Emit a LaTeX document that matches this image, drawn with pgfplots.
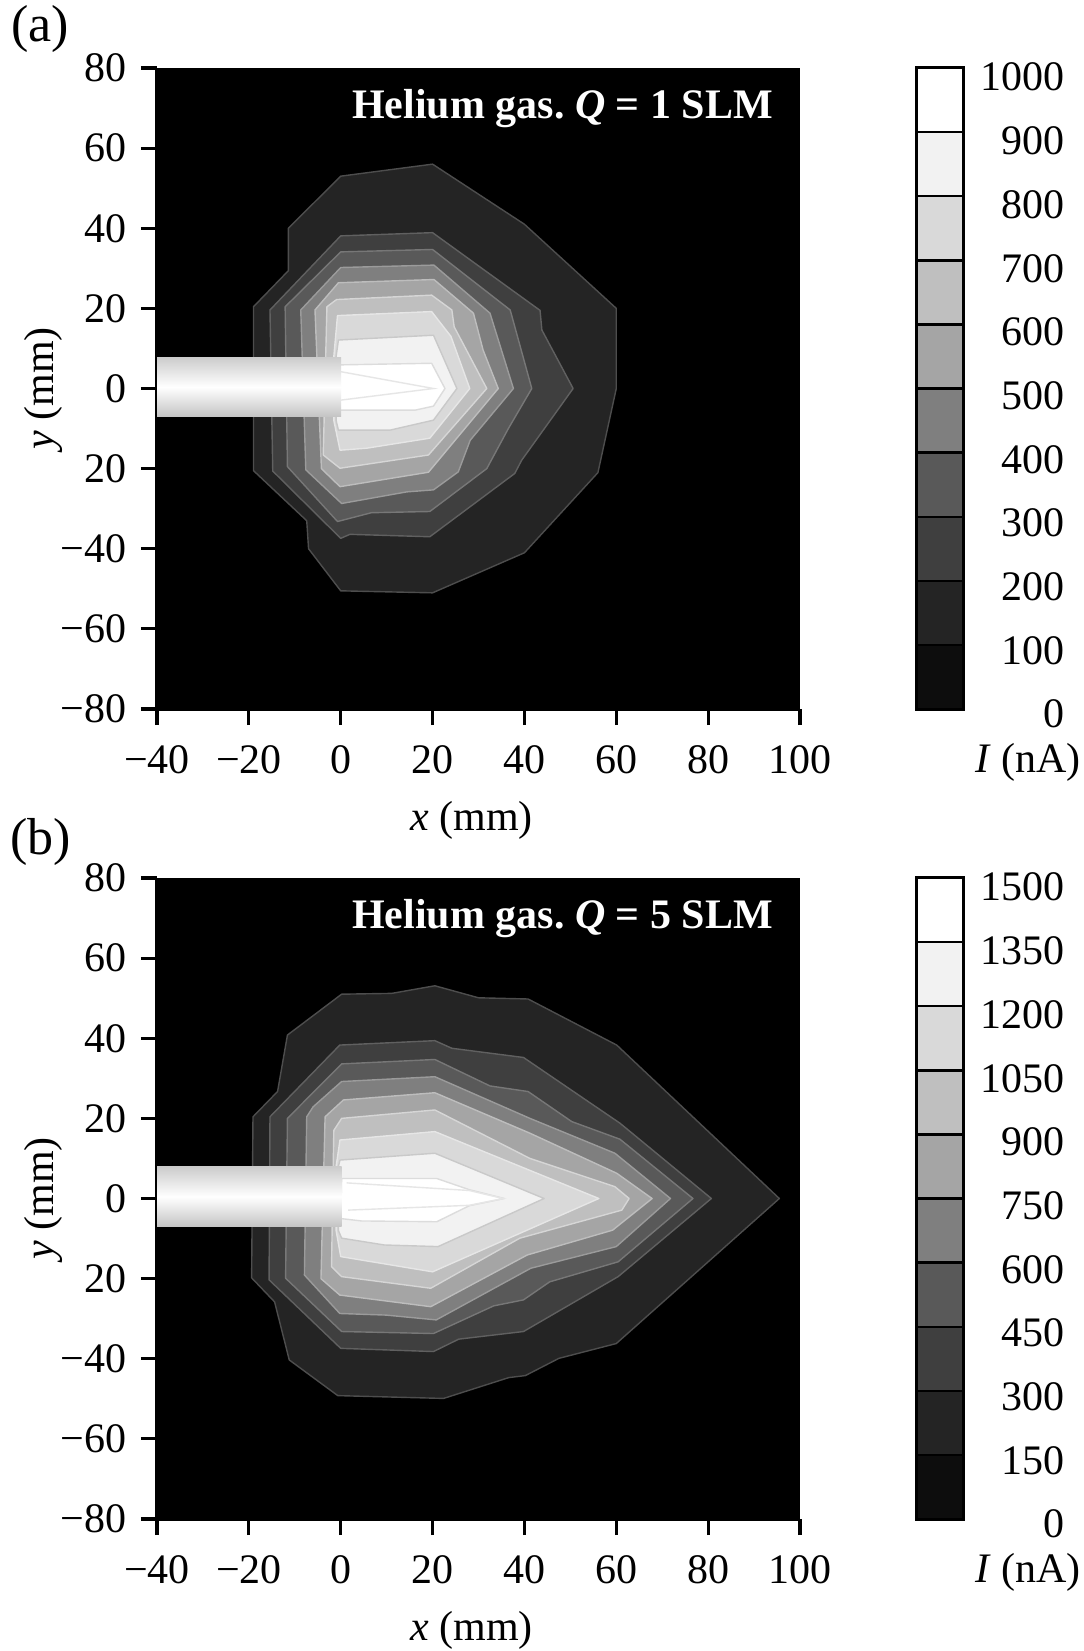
\documentclass[border=0pt]{standalone}
\usepackage{fontspec}
\setmainfont{Liberation Serif}
\usepackage{pgfplots}
\pgfplotsset{compat=1.18}

% grey levels of the contour fills (lowest to highest)
\definecolor{lv0}{HTML}{0D0D0D}
\definecolor{lv1}{HTML}{242424}
\definecolor{lv2}{HTML}{3F3F3F}
\definecolor{lv3}{HTML}{595959}
\definecolor{lv4}{HTML}{7F7F7F}
\definecolor{lv5}{HTML}{A5A5A5}
\definecolor{lv6}{HTML}{BFBFBF}
\definecolor{lv7}{HTML}{D9D9D9}
\definecolor{lv8}{HTML}{F2F2F2}
\definecolor{lv9}{HTML}{FFFFFF}
% contour line colours
\definecolor{ed1}{HTML}{4D4D4D}
\definecolor{ed2}{HTML}{606060}
\definecolor{ed3}{HTML}{777777}
\definecolor{ed4}{HTML}{9B9B9B}
\definecolor{ed5}{HTML}{BDBDBD}
\definecolor{ed6}{HTML}{D6D6D6}
\definecolor{ed7}{HTML}{E6E6E6}
\definecolor{ed8}{HTML}{C9C9C9}
\definecolor{ed9}{HTML}{DCDCDC}
\definecolor{pipeT}{HTML}{CCCCCC}
\definecolor{pipeB}{HTML}{C4C4C4}

\newcommand{\lvl}[3]{\addplot[fill=#1, draw=#2, line width=0.35pt, line join=round] coordinates {#3} -- cycle;}
\newcommand{\seg}[3]{\addplot[fill=#1, draw=black, line width=0.6pt] coordinates {(0,#2) (1,#2) (1,#3) (0,#3)} -- cycle;}

\pgfplotsset{
  map/.style={
    scale only axis, width=160.75pt, height=160.25pt,
    xmin=-40, xmax=100, ymin=-80, ymax=80,
    axis background/.style={fill=black},
    axis lines*=left, tick align=outside,
    major tick length=4pt,
    every tick/.style={black, line width=0.8pt},
    axis line style={line width=0.8pt},
    xtick={-40,-20,...,100},
    xticklabels={−40,−20,0,20,40,60,80,100},
    xticklabel style={yshift=-1.5pt},
    ytick={-80,-60,...,80},
    yticklabels={−80,−60,−40,20,0,20,40,60,80},
    xlabel={\textit{x} (mm)},
    ylabel={\textit{y} (mm)},
    xlabel style={at={(axis description cs:0.489,-0.173)}, anchor=center},
    ylabel style={at={(axis description cs:-0.176,0.5)}, anchor=center},
  },
  cbar/.style={
    scale only axis, width=11.5pt, height=160.25pt,
    xmin=0, xmax=1, xtick=\empty,
    yticklabel pos=right, major tick length=0pt,
    axis line style={line width=0.8pt},
    yticklabel style={anchor=east, xshift=29pt, yshift=-1.25pt-0.105pt*\ticknum},
  },
}

\begin{document}
\frenchspacing
\fontsize{10.5}{12.6}\selectfont
\begin{tikzpicture}[font=\fontsize{10.5}{12.6}\selectfont]
\useasboundingbox (0,0) rectangle (270.75pt,-412.75pt);

% ---------------- (a) Q = 1 SLM ----------------
\begin{axis}[map, at={(39.25pt,-177.25pt)}, anchor=south west]
\lvl{lv1}{ed1}{(0,53) (20,56) (40,41) (60,20) (60,0) (56,-21) (40,-41) (20,-51) (0,-50.5) (-7,-40) (-7.4,-33) (-19,-20.5) (-19,20.4) (-11.4,29.4) (-11.4,40)}
\lvl{lv2}{ed2}{(0,38.1) (20,38.9) (43.4,19.5) (43.8,14.6) (50.6,0) (39.4,-17.9) (37.9,-21.2) (19.4,-37) (2,-36.4) (0,-37.4) (-14.8,-20.6) (-15.4,19.6)}
\lvl{lv3}{ed3}{(0,34.1) (20,34.7) (36.9,19.6) (41.6,0) (36.5,-10) (31.8,-20) (19.4,-30.7) (6.7,-31) (-0.7,-33.2) (-11.6,-19.5) (-12.1,20.4)}
\lvl{lv4}{ed4}{(0,30.2) (20.3,30.8) (32.5,18.8) (37.6,0) (28.2,-12.9) (25.6,-20.8) (20.2,-25.3) (14.4,-25.8) (0.2,-28.7) (-7.6,-20.3) (-8.7,19.6)}
\lvl{lv5}{ed5}{(-0.5,26.4) (20.3,27.2) (28.9,18.8) (31,9.6) (34.3,0) (19.1,-20.9) (-0.15,-24.5) (-4.2,-20) (-5.6,19.6)}
\lvl{lv6}{ed6}{(-3,20.4) (-0.9,22.2) (19.8,23.3) (24.2,19.6) (24.7,15.4) (31.8,0) (19.1,-16.6) (-0.15,-19.9) (-3.8,-16.6)}
\lvl{lv7}{ed7}{(-0.7,18.2) (19.8,19.2) (24,13) (28.1,0) (19.4,-12.4) (5.65,-14.9) (-0.15,-15.4) (-1.5,-8) (-1.5,8)}
\lvl{lv8}{ed8}{(-0.5,12.1) (20.2,13.3) (25.3,0) (20.2,-7.9) (10.7,-10.4) (-0.5,-10.4) (-1,-8) (-1,8)}
\lvl{lv9}{ed9}{(-0.2,5.9) (19.8,6.3) (22.7,0) (20.2,-4.4) (16.2,-5.4) (-0.2,-5.4)}
\addplot[draw=ed7, line width=0.35pt] coordinates {(0,4.2) (20.2,0) (0,-2.9)};
% nozzle
\addplot[draw=none, top color=pipeT, bottom color=pipeB, middle color=white] coordinates {(-40,7.8) (0.1,7.8) (0.1,-7) (-40,-7)} -- cycle;
\node[anchor=east, text=white, inner sep=0pt] at (rel axis cs:0.959,0.937) {\textbf{Helium gas. \textit{Q} = 1 SLM}};
\end{axis}

\begin{axis}[cbar, at={(229.25pt,-177.25pt)}, anchor=south west,
  ymin=0, ymax=1000, ytick={0,100,...,1000},
  yticklabels={0,100,200,300,400,500,600,700,800,900,1000}]
\seg{lv0}{0}{100}
\seg{lv1}{100}{200}
\seg{lv2}{200}{300}
\seg{lv3}{300}{400}
\seg{lv4}{400}{500}
\seg{lv5}{500}{600}
\seg{lv6}{600}{700}
\seg{lv7}{700}{800}
\seg{lv8}{800}{900}
\seg{lv9}{900}{1000}
\end{axis}
\node at (257pt,-190.5pt) {\textit{I} (nA)};

% ---------------- (b) Q = 5 SLM ----------------
\begin{axis}[map, at={(39.25pt,-379.75pt)}, anchor=south west]
\lvl{lv1}{ed1}{(0.2,51) (11.1,51.2) (20.5,53.1) (30,50.1) (40.8,49.8) (60.1,38.3) (95.5,0) (60,-36.2) (47.5,-39.9) (40.2,-44.2) (36.6,-44.7) (22.4,-49.9) (-0.64,-49.2) (-11.2,-40.3) (-14.4,-25.8) (-19.4,-19.8) (-19.1,20.4) (-13.75,26.7) (-11.6,40.8)}
\lvl{lv2}{ed2}{(-0.2,38.3) (20.5,39.4) (24.2,37.5) (39.8,35.2) (60.8,18.8) (80.7,0) (60.4,-19.5) (39.8,-33.2) (25.7,-35.1) (20.2,-38.2) (0,-37.4) (-15.6,-20.3) (-15.4,20.4)}
\lvl{lv3}{ed3}{(0.2,33.6) (20.5,34.7) (32.5,28.1) (40.8,26.7) (50.3,19.2) (60.8,14.8) (76.7,0) (60.4,-15.8) (45.5,-20.8) (39.8,-25.3) (33.3,-26.8) (20.2,-33.7) (0.2,-33.2) (-12,-19.9) (-11.6,20)}
\lvl{lv4}{ed4}{(0.2,29.2) (20.5,30.4) (41.2,20) (59.7,11.3) (71.8,0) (60,-12) (41.4,-17.4) (20.8,-30.3) (9.9,-29.1) (-0.2,-28.7) (-7.9,-19.1) (-7.4,20.4) (-6,22.9)}
\lvl{lv5}{ed5}{(0.6,24.6) (20.5,26.4) (41.2,16.3) (60.1,6.3) (67.8,0) (59.2,-7.9) (40.6,-14.1) (19.6,-27) (-0.2,-24.1) (-4.3,-20) (-3.4,20.4)}
\lvl{lv6}{ed6}{(0.2,20) (20.5,22.1) (41.2,10) (59.7,2.95) (62.8,0) (61.2,-2.9) (39,-9.9) (19.6,-22.4) (0.2,-19.5) (-2,-17) (-1.5,17)}
\lvl{lv7}{ed7}{(-0.16,14.6) (20.5,16.7) (56.2,0) (20,-18.3) (0,-14.5) (-1,-8) (-1,8)}
\lvl{lv8}{ed8}{(-0.16,9.6) (20.5,11.3) (44.3,0) (21.2,-12) (9.5,-11.6) (0.2,-9.9) (-0.5,-8) (-0.5,8)}
\lvl{lv9}{ed9}{(0.2,5) (20.9,5) (28,2.2) (35.6,0) (28,-1.8) (20.9,-5.8) (4.5,-5.6) (0,-5)}
\addplot[draw=ed7, line width=0.35pt] coordinates {(1.3,3.9) (28,2) (35.4,0) (28,-1.7) (1.6,-2.9)};
% nozzle
\addplot[draw=none, top color=pipeT, bottom color=pipeB, middle color=white] coordinates {(-40,7.9) (0.2,7.9) (0.2,-7) (-40,-7)} -- cycle;
\node[anchor=east, text=white, inner sep=0pt] at (rel axis cs:0.959,0.937) {\textbf{Helium gas. \textit{Q} = 5 SLM}};
\end{axis}

\begin{axis}[cbar, at={(229.25pt,-379.75pt)}, anchor=south west,
  ymin=0, ymax=1500, ytick={0,150,...,1500},
  yticklabels={0,150,300,450,600,750,900,1050,1200,1350,1500}]
\seg{lv0}{0}{150}
\seg{lv1}{150}{300}
\seg{lv2}{300}{450}
\seg{lv3}{450}{600}
\seg{lv4}{600}{750}
\seg{lv5}{750}{900}
\seg{lv6}{900}{1050}
\seg{lv7}{1050}{1200}
\seg{lv8}{1200}{1350}
\seg{lv9}{1350}{1500}
\end{axis}
\node at (257pt,-393pt) {\textit{I} (nA)};

% panel letters
\node[font=\fontsize{13}{15}\selectfont] at (10pt,-7.2pt) {(a)};
\node[font=\fontsize{13}{15}\selectfont] at (10.2pt,-210.4pt) {(b)};
\end{tikzpicture}
\end{document}
